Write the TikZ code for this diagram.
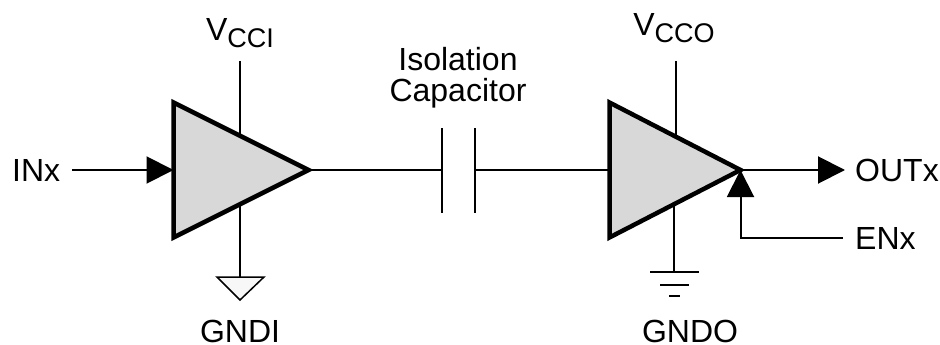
\documentclass[tikz,border=0pt]{standalone}
\usepackage{fontspec}
\setmainfont{Liberation Sans}
\usetikzlibrary{shapes,positioning,arrows.meta,calc}
\definecolor{ampgray}{HTML}{D8D8D8}
\newcommand{\subtxt}[1]{\raisebox{-6.5pt}{\fontsize{27}{27}\selectfont #1}}
\tikzset{
	wire/.style={line width=2pt},
	head/.style={-{Triangle[length=27pt,width=27pt]}},
	lbl/.style={font=\fontsize{32}{31}\selectfont,inner sep=0pt},
	amp/.style={isosceles triangle,isosceles triangle apex angle=53.13,draw,fill=ampgray,
		line width=4.5pt,inner sep=0pt,outer sep=0pt,minimum height=135pt,line join=miter,
		anchor=lower side}
}
\begin{document}
\begin{tikzpicture}[x=1pt,y=-1pt]
	\useasboundingbox (0,0) rectangle (940,345);
	\coordinate (vcci) at (240,61);
	\coordinate (vccitop) at (240,137);
	\coordinate (gndibot) at (240,204);
	\coordinate (gndi) at (240,277);
	\coordinate (vcco) at (675.5,61);
	\coordinate (vccotop) at (675.5,137);
	\coordinate (gndobot) at (674,204);
	\coordinate (gndo) at (674,272);
	\coordinate (capl) at (441.5,170);
	\coordinate (capr) at (475,170);
	\draw[wire] (vcci) -- (vccitop);
	\draw[wire] (gndibot) -- (gndi);
	\draw[wire] (vcco) -- (vccotop);
	\draw[wire] (gndobot) -- (gndo);
	\node[amp] (amp1) at (173.5,170) {};
	\node[amp,isosceles triangle apex angle=54.5,minimum height=131pt] (amp2) at (609.5,170) {};
	\node[lbl,anchor=west] (inx) at (12,170) {INx};
	\node[lbl,anchor=west] (outx) at (855,170) {OUTx};
	\node[lbl,anchor=west] (enx) at (855,238) {ENx};
	\node[lbl,anchor=base] (vccil) at (240,41) {V\subtxt{CCI}};
	\node[lbl,anchor=base] (vccol) at (674,36) {V\subtxt{CCO}};
	\node[lbl,anchor=base] (gndil) at (240,342) {GNDI};
	\node[lbl,anchor=base] (gndol) at (690,342) {GNDO};
	\node[lbl,align=center] (isol) at (458,78) {Isolation\\Capacitor};
	\draw[wire,head] ([xshift=12pt]inx.east) -- (amp1.lower side);
	\draw[wire] (amp1.apex) -- (capl);
	\draw[wire] (441.5,128) -- (441.5,213);
	\draw[wire] (475,128) -- (475,213);
	\draw[wire] (capr) -- (amp2.lower side);
	\draw[wire,head] (amp2.apex) -- ([xshift=-10pt]outx.west);
	\draw[wire,head] ([xshift=-12pt]enx.west) -| (amp2.apex);
	\draw[line width=1.5pt,fill=black!3] (217,277) -- (264,277) -- (240,300) -- cycle;
	\draw[wire] (650,272) -- (699,272);
	\draw[wire] (660,284.5) -- (689,284.5);
	\draw[wire] (669,296) -- (680,296);
\end{tikzpicture}
\end{document}
